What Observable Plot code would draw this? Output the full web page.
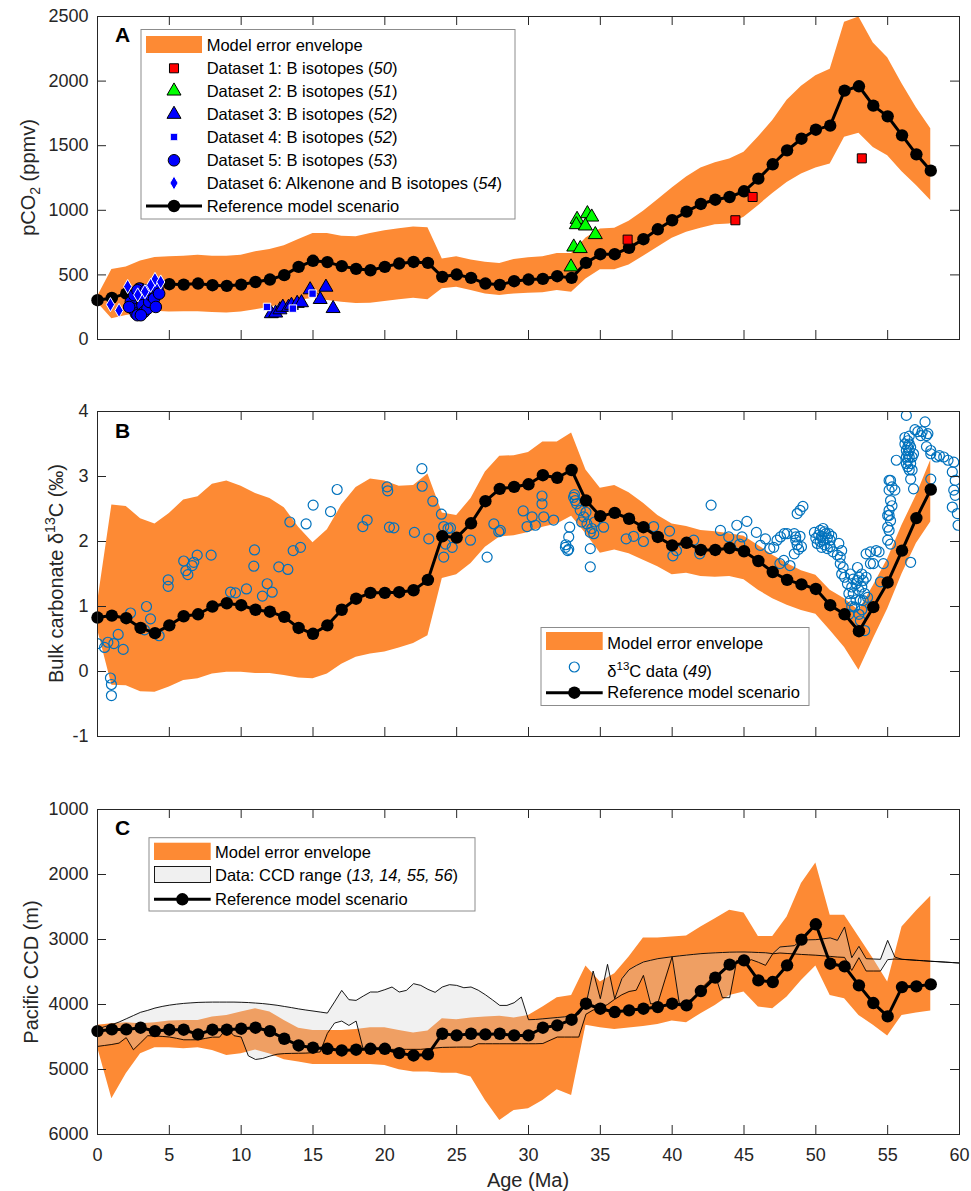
<!DOCTYPE html>
<html><head><meta charset="utf-8">
<script src="https://cdn.jsdelivr.net/npm/d3@7"></script>
<script src="https://cdn.jsdelivr.net/npm/@observablehq/plot@0.6"></script>
<style>
body{margin:0;background:#fff;}
#chart svg{display:block;}
</style>
</head><body><div id="chart"></div>
<script>
// ---------------- DATA ----------------
const modelAge = [0,1,2,3,4,5,6,7,8,9,10,11,12,13,14,15,16,17,18,19,20,21,22,23,24,25,26,27,28,29,30,31,32,33,34,35,36,37,38,39,40,41,42,43,44,45,46,47,48,49,50,51,52,53,54,55,56,57,58];
// Panel A: pCO2 (ppmv)
const pco2Model = [304,322,355,393,428,428,425,433,420,415,425,445,464,498,562,609,599,568,547,536,562,588,600,593,485,503,477,433,423,451,464,469,490,477,593,660,660,709,776,853,923,990,1049,1082,1103,1147,1245,1356,1464,1554,1624,1655,1926,1960,1810,1727,1580,1433,1307];
const pco2Upper = [330,541,562,608,634,640,645,653,645,645,653,679,697,725,774,821,821,800,795,821,842,857,870,865,624,640,615,597,589,620,633,640,666,666,786,856,861,915,992,1082,1173,1258,1327,1369,1397,1449,1567,1696,1851,1960,2042,2091,2455,2496,2295,2181,1980,1794,1631];
const pco2Lower = [285,160,186,204,219,212,214,214,209,206,212,230,250,276,302,320,302,289,279,281,294,307,320,307,392,405,379,353,340,353,358,361,379,366,469,539,539,577,644,714,783,830,861,889,894,946,1036,1131,1216,1281,1327,1358,1565,1596,1487,1423,1299,1191,1075];
const ds1 = [[36.9,773],[44.4,923],[45.6,1103],[53.2,1402]];
const ds2 = [[32.96,562],[33.15,716],[33.6,704],[33.38,930],[33.33,889],[34.1,974],[34.4,948],[33.96,879],[34.65,812]];
const ds3 = [[12.1,200],[12.4,205],[12.7,230],[12.9,250],[13.3,250],[13.5,265],[13.9,280],[14.2,285],[14.8,385],[15.5,310],[15.9,405],[16.4,240]];
const ds4 = [[11.8,252],[13.6,239],[14.97,355]];
const ds5 = [[2.32,291],[2.44,239],[2.67,201],[2.78,188],[2.55,343],[2.9,394],[3.02,329],[3.13,265],[3.25,214],[3.48,239],[3.6,291],[3.71,343],[3.83,381],[3.94,317],[4.18,394],[4.29,355],[4.06,252],[2.78,381],[3.36,381],[2.2,252],[3.02,188]];
const ds6 = [[0.9,270],[1.5,225],[2.1,410],[3.3,370],[4.0,465],[4.4,445],[2.8,345],[3.7,420]];

// Panel B: bulk carbonate d13C (permil)
const d13cModel = [0.83,0.86,0.82,0.67,0.59,0.71,0.85,0.88,1.00,1.05,1.02,0.95,0.92,0.84,0.67,0.58,0.71,0.95,1.12,1.21,1.21,1.22,1.25,1.41,2.08,2.06,2.28,2.62,2.81,2.84,2.88,3.02,2.98,3.10,2.63,2.39,2.44,2.35,2.22,2.07,1.94,1.98,1.87,1.87,1.90,1.85,1.70,1.53,1.41,1.34,1.27,1.02,0.88,0.62,0.99,1.37,1.86,2.36,2.80];
const d13cUpper = [1.05,2.56,2.54,2.35,2.27,2.43,2.64,2.69,2.88,2.93,2.85,2.74,2.66,2.52,2.22,1.98,2.18,2.56,2.83,2.96,2.93,2.85,2.86,3.04,2.44,2.40,2.66,3.07,3.31,3.32,3.37,3.53,3.53,3.67,3.10,2.82,2.86,2.75,2.59,2.40,2.27,2.23,2.17,2.15,2.12,2.08,1.94,1.79,1.66,1.55,1.48,1.25,1.12,0.94,1.32,1.73,2.25,2.71,3.25];
const d13cLower = [0.65,-0.21,-0.22,-0.31,-0.32,-0.24,-0.14,-0.11,-0.04,-0.01,-0.01,-0.03,-0.03,-0.06,-0.10,-0.11,-0.04,0.11,0.22,0.27,0.30,0.36,0.43,0.55,1.43,1.49,1.66,1.91,2.07,2.09,2.14,2.22,2.27,2.39,2.12,1.82,1.87,1.81,1.71,1.61,1.49,1.51,1.46,1.45,1.46,1.41,1.25,1.12,1.02,0.94,0.88,0.63,0.37,0.02,0.50,0.96,1.50,1.97,2.30];
const d13cData = [
[0.0,0.43],[0.49,0.37],[0.72,0.45],[1.14,0.43],[1.44,0.57],[1.79,0.34],[0.9,-0.10],[0.97,-0.20],[0.97,-0.37],[2.3,0.90],[3.41,1.00],[3.69,0.81],[3.27,0.64],[4.29,0.55],[4.92,1.41],[4.92,1.31],[6.0,1.70],[6.15,1.55],[6.29,1.49],[6.59,1.63],[6.7,1.68],[6.94,1.79],[7.91,1.79],[9.26,1.22],[9.6,1.21],[10.37,1.27],[10.93,1.87],[10.88,1.62],[11.48,1.16],[11.81,1.35],[12.16,1.22],[12.62,1.61],[13.25,1.57],[13.39,2.30],[13.62,1.86],[14.13,1.91],[14.52,2.27],[15.01,2.56],[16.22,2.46],[16.68,2.80],[18.47,2.23],[18.77,2.33],[20.16,2.84],[20.2,2.78],[20.32,2.22],[20.63,2.21],[22.06,2.14],[22.58,3.12],[22.6,2.85],[23.34,2.62],[23.06,2.04],[23.94,2.42],[24.1,2.23],[24.22,1.96],[24.1,1.76],[24.4,2.20],[24.69,1.91],[24.57,2.21],[25.96,2.02],[27.59,2.27],[27.12,1.76],[27.93,2.15],
[28.04,2.17],[29.63,2.47],[29.9,2.23],[30.25,2.38],[30.48,2.25],[30.94,2.70],[30.94,2.58],[31.06,2.38],[31.75,2.33],[32.57,1.91],[32.73,1.86],[32.6,1.95],[32.8,1.88],[32.8,2.07],[32.87,2.22],[33.14,2.68],[33.25,2.63],[33.2,2.72],[33.35,2.58],[33.6,2.48],[33.84,2.38],[34.07,2.27],[34.3,2.14],[34.54,2.12],[34.3,1.89],[34.3,1.61],[33.7,2.3],[34.0,2.45],[34.4,2.2],[34.6,2.3],[35.23,2.22],[36.8,2.04],[37.32,2.08],[38.0,2.0],[38.71,2.23],[39.82,2.16],[40.05,1.78],[40.3,1.86],[41.5,2.02],[41.92,1.81],[42.71,2.56],[43.36,2.17],[43.94,2.07],[44.5,2.25],[45.2,2.31],[44.86,2.07],[44.7,1.96],[45.86,2.14],[46.14,1.94],[46.49,2.04],[47.07,1.91],[47.54,2.07],[47.77,1.71],[48.0,2.12],[48.6,2.07],[48.5,1.81],
[48.7,2.43],[48.9,2.48],[49.1,2.54],[48.5,2.12],[48.6,2.02],[48.7,1.95],[48.8,1.88],[48.9,2.08],[49.0,1.92],[47.8,2.12],[47.3,2.02],[46.8,1.89],[47.5,1.66],[48.2,1.63],
[49.9,2.14],[50.0,2.05],[50.1,1.97],[50.2,2.1],[50.3,2.17],[50.3,2.0],[50.4,1.91],[50.4,2.08],[50.5,2.2],[50.5,2.02],[50.6,1.95],[50.7,2.12],[50.8,1.89],[50.8,2.05],[50.9,2.12],[51.0,2.02],[51.0,1.92],[51.1,2.08],[51.2,1.84],[50.6,2.15],
[51.6,1.97],[51.8,1.86],[51.7,1.76],[51.5,1.79],[51.8,1.50],[51.7,1.66],[51.9,1.60],[52.0,1.45],
[52.2,1.35],[52.3,1.2],[52.4,1.5],[52.4,1.09],[52.5,1.30],[52.6,1.2],[52.6,1.42],[52.7,0.99],[52.8,1.35],[52.9,1.40],[52.9,1.6],[53.0,0.88],[53.0,1.25],[53.1,0.78],[53.1,1.1],[53.2,1.50],[53.2,1.3],[53.3,1.09],[53.3,1.4],[53.4,0.63],[53.4,1.2],[53.5,1.45],[53.6,1.14],[52.3,0.88],[52.5,1.0],[52.8,1.1],[53.0,1.45],[53.2,0.95],
[53.5,1.81],[53.8,1.84],[54.2,1.86],[54.4,1.84],[54.0,1.66],[53.8,1.66],[54.7,1.66],[54.5,1.38],
[55.0,2.02],[55.1,2.17],[55.2,2.32],[55.1,2.48],[55.2,2.63],[55.1,2.79],[55.3,2.84],[55.1,2.94],[55.0,2.22],[55.1,2.40],[55.2,2.94],[55.5,2.79],[55.3,2.55],[55.0,2.40],[55.2,1.96],[55.6,3.25],
[56.2,3.6],[56.2,3.5],[56.3,3.4],[56.3,3.3],[56.3,3.2],[56.4,3.55],[56.4,3.45],[56.4,3.35],[56.4,3.25],[56.4,3.15],[56.5,3.62],[56.5,3.5],[56.5,3.4],[56.5,3.3],[56.5,3.1],[56.6,3.45],[56.6,3.2],[56.7,3.3],[56.7,3.1],[56.8,3.35],
[56.3,3.94],[56.6,2.96],[56.8,2.81],[56.9,3.72],[57.1,3.69],[57.6,3.84],[57.3,3.63],[57.7,3.46],[57.8,3.66],[58.0,3.35],[57.4,3.69],[57.7,3.63],[58.0,3.40],[56.6,1.68],[58.0,2.96],[58.4,3.30],[58.6,3.32],[58.9,3.30],[59.2,3.25],[59.6,3.22],[59.5,3.07],[59.7,2.94],[59.7,2.71],[59.5,2.53],[59.85,2.43],[59.9,2.25],[59.6,2.79]
];

// Panel C: Pacific CCD (m)
const ccdModel = [4409,4383,4383,4357,4409,4388,4388,4460,4388,4388,4372,4357,4409,4527,4630,4665,4681,4707,4696,4681,4681,4748,4784,4768,4450,4475,4450,4460,4450,4475,4475,4357,4321,4234,3988,4065,4116,4090,4065,4040,3988,4014,3793,3587,3387,3321,3629,3654,3398,3002,2766,3372,3413,3706,3978,4183,3732,3721,3690];
const ccdEnvShallow = [4320,4296,4280,4296,4280,4255,4245,4245,4193,4168,4116,4065,4116,4245,4364,4399,4399,4399,4383,4357,4357,4399,4440,4409,4219,4234,4209,4193,4180,4209,4168,4040,3896,3860,3408,3654,3526,3269,2977,2977,2962,2947,2808,2679,2551,2592,2952,2952,2653,2140,1822,2628,2628,2962,3295,3654,2808,2561,2335];
const ccdEnvDeep = [4655,5450,5066,4758,4665,4665,4681,4665,4707,4784,4758,4700,4760,4850,4886,4922,4922,4922,4922,4922,4937,5004,5040,5040,5056,5056,5117,5476,5784,5630,5604,5476,5312,5399,4321,4357,4383,4362,4337,4306,4255,4280,4142,4014,3860,3809,4040,4065,3886,3629,3408,3860,3911,4168,4321,4486,4168,4132,4101];
const ccdRangeAge = [0,0.5,1,1.5,2,2.5,3,3.5,4,4.5,5,5.5,6,6.5,7,7.5,8,8.5,9,9.5,10,10.5,11,11.5,12,12.5,13,13.5,14,14.5,15,15.5,16,16.5,17,17.5,18,18.5,19,19.5,20,20.5,21,21.5,22,22.5,23,23.5,24,24.5,25,25.5,26,26.5,27,27.5,28,28.5,29,29.5,30,30.5,31,31.5,32,32.5,33,33.5,34,34.5,35,35.5,36,36.5,37,37.5,38,38.5,39,39.5,40,40.5,41,41.5,42,42.5,43,43.5,44,44.5,45,45.5,46,46.5,47,47.5,48,48.5,49,49.5,50,50.5,51,51.5,52,52.5,53,53.5,54,54.5,55,55.5,56,56.5,57,57.5,58,58.5,59,59.5,60];
const ccdRangeTop = [
4380,4340,4310,4270,4220,4170,4120,4090,4055,4030,
4010,3995,3983,3975,3968,3965,3963,3963,3963,3963,
3966,3970,3978,3986,3998,4012,4030,4048,4068,4085,
4100,4116,4132,3960,3783,3926,3937,3870,3808,3808,
3772,3731,3808,3783,3680,3706,3767,3813,3731,3695,
3706,3742,3731,3780,3850,3930,4014,4014,3973,3885,
4234,4230,4220,4210,4200,4190,4175,4150,4000,3485,
3911,3382,3911,3603,3464,3400,3346,3320,3295,3280,
3265,3252,3240,3229,3218,3211,3205,3200,3195,3193,
3192,3195,3200,3204,3218,3115,3105,3095,3013,3005,
3002,2990,2975,3013,2807,3280,3105,3295,3300,3305,
3013,3270,3305,3312,3320,3327,3335,3341,3348,3355,
3362];
const ccdRangeBottom = [
4645,4630,4615,4594,4510,4697,4590,4480,4485,4491,
4500,4520,4543,4543,4543,4522,4502,4502,4360,4480,
4500,4790,4846,4830,4794,4765,4755,4752,4750,4748,
4740,4730,4445,4285,4255,4322,4255,4690,4690,4690,
4690,4690,4690,4690,4690,4690,4680,4670,4660,4658,
4656,4655,4655,4604,4604,4604,4604,4604,4604,4604,
4604,4604,4600,4550,4501,4501,4501,4501,4150,4085,
4060,4000,3920,3850,3800,3780,3552,3990,3980,3620,
3265,3988,3950,3911,3757,3650,3551,3895,3895,3320,
3362,3310,3350,3398,3220,3208,3215,3222,3230,3236,
3242,3250,3260,3270,3275,3475,3280,3485,3485,3485,
3310,3300,3305,3312,3320,3327,3335,3341,3348,3355,
3362];

const xTicks = [0,5,10,15,20,25,30,35,40,45,50,55,60];
const pco2Ticks = [0,500,1000,1500,2000,2500];
const d13cTicks = [-1,0,1,2,3,4];
const ccdTicks = [1000,2000,3000,4000,5000,6000];

// ---------------- STYLE ----------------
const FONT = "Arial, 'Liberation Sans', Helvetica, sans-serif";
const ORANGE = "#FD8A34";
const INK = "#262626";
const W = 971, ML = 97, MR = 12;
const FW = W - ML - MR;

const modelA = modelAge.map((a,i)=>({age:a, v:pco2Model[i], lo:pco2Lower[i], hi:pco2Upper[i]}));
const modelB = modelAge.map((a,i)=>({age:a, v:d13cModel[i], lo:d13cLower[i], hi:d13cUpper[i]}));
const modelC = modelAge.map((a,i)=>({age:a, v:ccdModel[i], lo:ccdEnvShallow[i], hi:ccdEnvDeep[i]}));
const rangeC = ccdRangeAge.map((a,i)=>({age:a, top:ccdRangeTop[i], bot:ccdRangeBottom[i]}));

function frameMarks(FH, yTicks, showX) {
  const m = [
    Plot.frame({stroke: INK, strokeWidth: 1}),
    Plot.tickX(xTicks, {x: d=>d, insetTop: FH-9, stroke: INK, strokeWidth: 1}),
    Plot.tickX(xTicks, {x: d=>d, insetBottom: FH-9, stroke: INK, strokeWidth: 1}),
    Plot.tickY(yTicks, {y: d=>d, insetRight: FW-9, stroke: INK, strokeWidth: 1}),
    Plot.tickY(yTicks, {y: d=>d, insetLeft: FW-9, stroke: INK, strokeWidth: 1}),
    Plot.axisY({ticks: yTicks, tickSize: 0, tickPadding: 9, label: null, tickFormat: d=>String(d)})
  ];
  if (showX) m.push(Plot.axisX({ticks: xTicks, tickSize: 0, tickPadding: 14, label: null, tickFormat: d=>String(d)}));
  return m;
}
function modelMarks(data) {
  return [
    Plot.line(data, {x:"age", y:"v", stroke:"#000", strokeWidth:3}),
    Plot.dot(data, {x:"age", y:"v", r:6.2, fill:"#000"})
  ];
}
const baseStyle = {fontFamily: FONT, fontSize: "18px", color: INK, background: "white", overflow: "visible"};

// ---------------- PANEL A ----------------
const hA = 390, mtA = 16, mbA = 51;
const plotA = Plot.plot({
  width: W, height: hA, marginLeft: ML, marginRight: MR, marginTop: mtA, marginBottom: mbA,
  style: baseStyle,
  x: {domain: [0,60], axis: null},
  y: {domain: [0,2500]},
  marks: [
    Plot.areaY(modelA, {x:"age", y1:"lo", y2:"hi", fill: ORANGE}),
    ...modelMarks(modelA),
    Plot.dot(ds3, {x: d=>d[0], y: d=>d[1], symbol:"triangle", r:5.2, fill:"#0000FF", stroke:"#000", strokeWidth:1}),
    Plot.dot(ds5, {x: d=>d[0], y: d=>d[1], symbol:"circle", r:5.8, fill:"#0000FF", stroke:"#000", strokeWidth:1}),
    Plot.dot(ds6, {x: d=>d[0], y: d=>d[1], symbol:"diamond", r:4.3, fill:"#0000FF", stroke:"#fff", strokeWidth:1}),
    Plot.dot(ds4, {x: d=>d[0], y: d=>d[1], symbol:"square", r:4.2, fill:"#0000FF", stroke:"#fff", strokeWidth:1}),
    Plot.dot(ds2, {x: d=>d[0], y: d=>d[1], symbol:"triangle", r:5.2, fill:"#00FF00", stroke:"#000", strokeWidth:1}),
    Plot.dot(ds1, {x: d=>d[0], y: d=>d[1], symbol:"square", r:5.1, fill:"#FF0000", stroke:"#000", strokeWidth:1}),
    ...frameMarks(hA-mtA-mbA, pco2Ticks, false)
  ]
});

// ---------------- PANEL B ----------------
const hB = 400, mtB = 21, mbB = 54;
const plotB = Plot.plot({
  width: W, height: hB, marginLeft: ML, marginRight: MR, marginTop: mtB, marginBottom: mbB,
  style: baseStyle,
  x: {domain: [0,60], axis: null},
  y: {domain: [-1,4]},
  marks: [
    Plot.areaY(modelB, {x:"age", y1:"lo", y2:"hi", fill: ORANGE}),
    Plot.dot(d13cData, {x: d=>d[0], y: d=>d[1], r:5, fill:"none", stroke:"#0072BD", strokeWidth:1.2, clip:true}),
    ...modelMarks(modelB),
    ...frameMarks(hB-mtB-mbB, d13cTicks, false)
  ]
});

// ---------------- PANEL C ----------------
const hC = 401, mtC = 19, mbC = 57;
const plotC = Plot.plot({
  width: W, height: hC, marginLeft: ML, marginRight: MR, marginTop: mtC, marginBottom: mbC,
  style: baseStyle,
  x: {domain: [0,60]},
  y: {domain: [1000,6000], reverse: true},
  marks: [
    Plot.areaY(modelC, {x:"age", y1:"lo", y2:"hi", fill: ORANGE}),
    Plot.areaY(rangeC, {x:"age", y1:"top", y2:"bot", fill:"#d2d2d2", fillOpacity:0.3}),
    Plot.line(rangeC, {x:"age", y:"top", stroke:"#000", strokeWidth:0.9}),
    Plot.line(rangeC, {x:"age", y:"bot", stroke:"#000", strokeWidth:0.9}),
    ...modelMarks(modelC),
    ...frameMarks(hC-mtC-mbC, ccdTicks, true)
  ]
});

const chart = document.getElementById("chart");
chart.append(plotA, plotB, plotC);

// ---------------- ANNOTATIONS ----------------
const LFS = 16.5;
function yLabel(svg, cx, cy, build) {
  const t = svg.append("text").attr("transform", `translate(${cx},${cy}) rotate(-90)`)
    .attr("text-anchor","middle").attr("dy","0.35em").attr("font-size",20).attr("fill",INK);
  build(t);
}
function panelLetter(svg, x, y, s) {
  svg.append("text").attr("x",x).attr("y",y).attr("text-anchor","start").attr("font-size",21).attr("font-weight","bold").attr("fill","#000").text(s);
}
function box(svg, x, y, w, h) {
  svg.append("rect").attr("x",x).attr("y",y).attr("width",w).attr("height",h)
    .attr("fill","#fff").attr("stroke","#8c8c8c").attr("stroke-width",1);
}
function ltext(svg, x, y, parts) {
  const t = svg.append("text").attr("x",x).attr("y",y).attr("dy","0.35em").attr("text-anchor","start").attr("font-size",LFS).attr("fill","#000");
  for (const p of parts) {
    const s = t.append("tspan").text(p.t);
    if (p.i) s.attr("font-style","italic");
    if (p.fs) s.attr("font-size", p.fs);
    if (p.dy) s.attr("dy", p.dy);
  }
}
function sym(svg, type, x, y, r, fill, stroke) {
  svg.append("path").attr("d", d3.symbol().type(type).size(Math.PI*r*r)())
    .attr("transform",`translate(${x},${y})`).attr("fill",fill).attr("stroke",stroke).attr("stroke-width",1);
}
function lineSwatch(svg, x1, x2, y) {
  svg.append("line").attr("x1",x1).attr("x2",x2).attr("y1",y).attr("y2",y).attr("stroke","#000").attr("stroke-width",3);
  svg.append("circle").attr("cx",(x1+x2)/2).attr("cy",y).attr("r",6.2).attr("fill","#000");
}

// Panel A
{
  const svg = d3.select(plotA);
  yLabel(svg, 28, 177.5, t => {
    t.append("tspan").text("pCO");
    t.append("tspan").text("2").attr("font-size",14).attr("dy",5);
    t.append("tspan").text(" (ppmv)").attr("dy",-5);
  });
  panelLetter(svg, 115, 42, "A");
  box(svg, 141, 29.5, 374, 189.5);
  svg.append("rect").attr("x",146).attr("y",36).attr("width",56).attr("height",17).attr("fill",ORANGE);
  const tx = 206.7, mx = 174;
  const rows = [45.7, 68.3, 91, 114.3, 137, 160.3, 183, 206];
  ltext(svg, tx, rows[0], [{t:"Model error envelope"}]);
  sym(svg, d3.symbolSquare, mx, rows[1], 5.1, "#FF0000", "#000");
  ltext(svg, tx, rows[1], [{t:"Dataset 1: B isotopes ("},{t:"50",i:1},{t:")"}]);
  sym(svg, d3.symbolTriangle, mx, rows[2], 5.2, "#00FF00", "#000");
  ltext(svg, tx, rows[2], [{t:"Dataset 2: B isotopes ("},{t:"51",i:1},{t:")"}]);
  sym(svg, d3.symbolTriangle, mx, rows[3], 5.2, "#0000FF", "#000");
  ltext(svg, tx, rows[3], [{t:"Dataset 3: B isotopes ("},{t:"52",i:1},{t:")"}]);
  sym(svg, d3.symbolSquare, mx, rows[4], 4.2, "#0000FF", "#fff");
  ltext(svg, tx, rows[4], [{t:"Dataset 4: B isotopes ("},{t:"52",i:1},{t:")"}]);
  sym(svg, d3.symbolCircle, mx, rows[5], 5.8, "#0000FF", "#000");
  ltext(svg, tx, rows[5], [{t:"Dataset 5: B isotopes ("},{t:"53",i:1},{t:")"}]);
  sym(svg, d3.symbolDiamond, mx, rows[6], 4.3, "#0000FF", "#fff");
  ltext(svg, tx, rows[6], [{t:"Dataset 6: Alkenone and B isotopes ("},{t:"54",i:1},{t:")"}]);
  lineSwatch(svg, 146, 202, rows[7]);
  ltext(svg, tx, rows[7], [{t:"Reference model scenario"}]);
}
// Panel B
{
  const svg = d3.select(plotB);
  yLabel(svg, 56, 183.5, t => {
    t.append("tspan").text("Bulk carbonate δ");
    t.append("tspan").text("13").attr("font-size",14).attr("dy",-8);
    t.append("tspan").text("C (‰)").attr("dy",8);
  });
  panelLetter(svg, 115, 48, "B");
  box(svg, 541, 237.5, 268, 78);
  svg.append("rect").attr("x",546).attr("y",242).attr("width",56.7).attr("height",18).attr("fill",ORANGE);
  const tx = 607.3;
  ltext(svg, tx, 253.3, [{t:"Model error envelope"}]);
  svg.append("circle").attr("cx",574.3).attr("cy",277).attr("r",5).attr("fill","none").attr("stroke","#0072BD").attr("stroke-width",1.2);
  ltext(svg, tx, 281, [{t:"δ"},{t:"13",fs:11.5,dy:-7},{t:"C data (",dy:7},{t:"49",i:1},{t:")"}]);
  lineSwatch(svg, 546, 602.7, 302.7);
  ltext(svg, tx, 302.7, [{t:"Reference model scenario"}]);
}
// Panel C
{
  const svg = d3.select(plotC);
  yLabel(svg, 31, 182, t => { t.text("Pacific CCD (m)"); });
  svg.append("text").attr("x", 528).attr("y", 397).attr("text-anchor","middle").attr("font-size",20).attr("fill",INK).text("Age (Ma)");
  panelLetter(svg, 115, 45, "C");
  box(svg, 149, 47.7, 326, 73.3);
  svg.append("rect").attr("x",154).attr("y",52.7).attr("width",56.7).attr("height",17.3).attr("fill",ORANGE);
  svg.append("rect").attr("x",154.5).attr("y",76.5).attr("width",56).attr("height",16).attr("fill","#f0f0f0").attr("stroke","#000").attr("stroke-width",0.9);
  const tx = 215;
  ltext(svg, tx, 62.3, [{t:"Model error envelope"}]);
  ltext(svg, tx, 85.7, [{t:"Data: CCD range ("},{t:"13, 14, 55, 56",i:1},{t:")"}]);
  lineSwatch(svg, 154, 210.7, 109.3);
  ltext(svg, tx, 109.3, [{t:"Reference model scenario"}]);
}
</script></body></html>
